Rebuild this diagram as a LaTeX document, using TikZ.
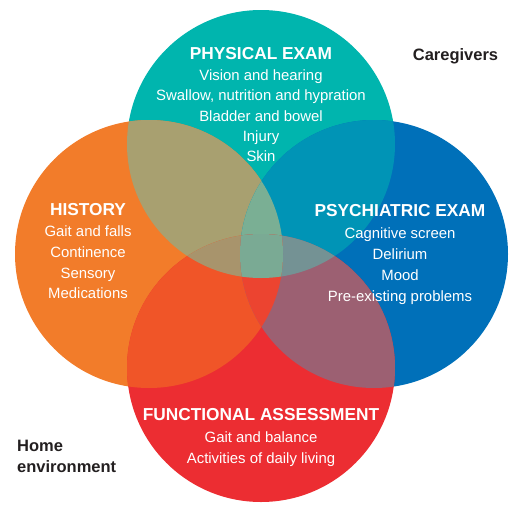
\documentclass[tikz,border=0pt]{standalone}
\usepackage{fontspec}
\setmainfont{Liberation Sans}
\definecolor{cT}{HTML}{00B5AE}
\definecolor{cO}{HTML}{F27C2A}
\definecolor{cB}{HTML}{0070B9}
\definecolor{cR}{HTML}{EC2D32}
\definecolor{cTO}{HTML}{A8A070}
\definecolor{cTB}{HTML}{0094B6}
\definecolor{cOR}{HTML}{F05528}
\definecolor{cBR}{HTML}{9C6072}
\definecolor{cTOB}{HTML}{7AAF94}
\definecolor{cTOR}{HTML}{A8946C}
\definecolor{cTBR}{HTML}{749294}
\definecolor{cOBR}{HTML}{EC4430}
\definecolor{cTOBR}{HTML}{7AAA94}
\definecolor{lbl}{HTML}{231F20}
\newcommand\circT{(261,144) circle [radius=134pt]}
\newcommand\circO{(149,254) circle [radius=134pt]}
\newcommand\circB{(374,254) circle [radius=134pt]}
\newcommand\circR{(261,368) circle [radius=134pt]}
\begin{document}
\begin{tikzpicture}[x=1pt,y=-1pt,
  hd/.style={text=white,font=\fontsize{17.3}{20}\selectfont\bfseries,anchor=base,inner sep=0pt},
  bd/.style={text=white,font=\fontsize{14.9}{18}\selectfont,anchor=base,inner sep=0pt},
  lb/.style={text=lbl,font=\fontsize{16.5}{20}\selectfont\bfseries,anchor=base,inner sep=0pt}]
\useasboundingbox (0,0) rectangle (512,504);
% single circles
\fill[cT] \circT;
\fill[cO] \circO;
\fill[cB] \circB;
\fill[cR] \circR;
% pairs
\begin{scope}\clip \circT; \fill[cTO] \circO; \end{scope}
\begin{scope}\clip \circT; \fill[cTB] \circB; \end{scope}
\begin{scope}\clip \circO; \fill[cOR] \circR; \end{scope}
\begin{scope}\clip \circB; \fill[cBR] \circR; \end{scope}
% triples
\begin{scope}\clip \circT; \clip \circO; \fill[cTOB] \circB; \end{scope}
\begin{scope}\clip \circT; \clip \circO; \fill[cTOR] \circR; \end{scope}
\begin{scope}\clip \circT; \clip \circB; \fill[cTBR] \circR; \end{scope}
\begin{scope}\clip \circO; \clip \circB; \fill[cOBR] \circR; \end{scope}
% all four
\begin{scope}\clip \circT; \clip \circO; \clip \circB; \fill[cTOBR] \circR; \end{scope}
% texts
\node[hd] (ph) at (261,59) {PHYSICAL EXAM};
\node[bd] (p1) at (261,80.5) {Vision and hearing};
\node[bd] (p2) at (261,100.8) {Swallow, nutrition and hypration};
\node[bd] (p3) at (261,121.1) {Bladder and bowel};
\node[bd] (p4) at (261,141.4) {Injury};
\node[bd] (p5) at (261,161.7) {Skin};
\node[hd] (hh) at (88,215) {HISTORY};
\node[bd] (h1) at (88,236) {Gait and falls};
\node[bd] (h2) at (88,257) {Continence};
\node[bd] (h3) at (88,278) {Sensory};
\node[bd] (h4) at (88,298.6) {Medications};
\node[hd] (sh) at (400,216) {PSYCHIATRIC EXAM};
\node[bd] (s1) at (400,238.3) {Cagnitive screen};
\node[bd] (s2) at (400,259.3) {Delirium};
\node[bd] (s3) at (400,280.3) {Mood};
\node[bd] (s4) at (400,301.3) {Pre-existing problems};
\node[hd] (fh) at (261,420) {FUNCTIONAL ASSESSMENT};
\node[bd] (f1) at (261,442.3) {Gait and balance};
\node[bd] (f2) at (261,463.3) {Activities of daily living};
\node[lb] (cg) at (455.5,60) {Caregivers};
\node[lb,anchor=base west] (hm1) at (17,451) {Home};
\node[lb,anchor=base west] (hm2) at (17,472.3) {environment};
\end{tikzpicture}
\end{document}
